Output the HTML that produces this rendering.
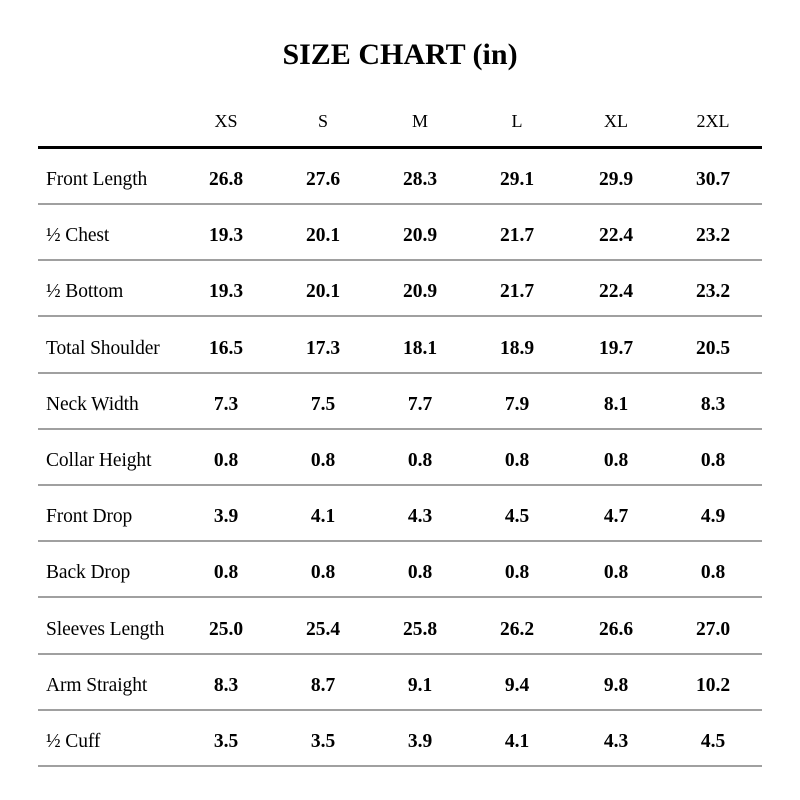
<!DOCTYPE html>
<html><head><style>
body{margin:0;width:800px;height:800px;background:#fff;position:relative;font-family:"Liberation Serif",serif;color:#000;overflow:hidden}
.t{position:absolute;left:0;width:800px;text-align:center;top:38px;font-size:30px;font-weight:bold}
.c{position:absolute;width:100px;text-align:center;font-size:18px;line-height:20px;transform:translateX(-50%)}
.l{position:absolute;left:46px;font-size:19.5px;line-height:20px;letter-spacing:-0.1px}
.b{font-weight:bold;font-size:19.5px}
.ln{position:absolute;left:38px;width:724px;height:2px;background:#a0a0a0}
</style></head><body>
<div class="t">SIZE CHART (in)</div>
<div style="position:absolute;left:38px;width:724px;top:146px;height:3px;background:#000"></div>
<div id="g"></div>
<script>
var cols=[226,323,420,517,616,713];
var hdr=["XS","S","M","L","XL","2XL"];
var rows=[["Front Length","26.8","27.6","28.3","29.1","29.9","30.7"],
["½ Chest","19.3","20.1","20.9","21.7","22.4","23.2"],
["½ Bottom","19.3","20.1","20.9","21.7","22.4","23.2"],
["Total Shoulder","16.5","17.3","18.1","18.9","19.7","20.5"],
["Neck Width","7.3","7.5","7.7","7.9","8.1","8.3"],
["Collar Height","0.8","0.8","0.8","0.8","0.8","0.8"],
["Front Drop","3.9","4.1","4.3","4.5","4.7","4.9"],
["Back Drop","0.8","0.8","0.8","0.8","0.8","0.8"],
["Sleeves Length","25.0","25.4","25.8","26.2","26.6","27.0"],
["Arm Straight","8.3","8.7","9.1","9.4","9.8","10.2"],
["½ Cuff","3.5","3.5","3.9","4.1","4.3","4.5"]];
var h="";
hdr.forEach(function(t,i){h+='<div class="c" style="left:'+cols[i]+'px;top:111px">'+t+'</div>';});
rows.forEach(function(r,j){
var y=178+j*56.2;
h+='<div class="l" style="top:'+(y-8)+'px">'+r[0]+'</div>';
for(var i=0;i<6;i++)h+='<div class="c b" style="left:'+cols[i]+'px;top:'+(y-8)+'px">'+r[i+1]+'</div>';
h+='<div class="ln" style="top:'+(y+25)+'px"></div>';
});
document.getElementById("g").innerHTML=h;
</script>
</body></html>
